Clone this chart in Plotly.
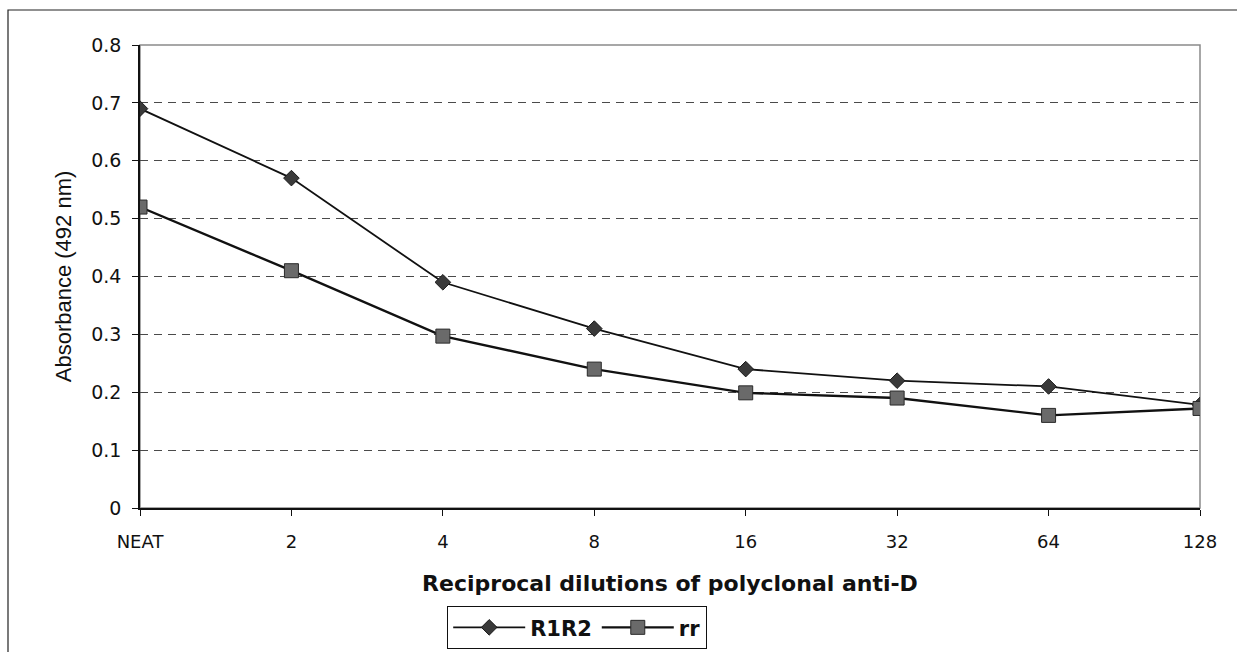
import plotly.graph_objects as go

# Reciprocal dilutions of polyclonal anti-D and absorbance readings at 492 nm
dilutions = ["NEAT", "2", "4", "8", "16", "32", "64", "128"]
r1r2 = [0.69, 0.57, 0.39, 0.31, 0.24, 0.22, 0.21, 0.178]
rr = [0.52, 0.41, 0.297, 0.24, 0.199, 0.19, 0.16, 0.172]
y_ticks = [0, 0.1, 0.2, 0.3, 0.4, 0.5, 0.6, 0.7, 0.8]
y_tick_text = ["0", "0.1", "0.2", "0.3", "0.4", "0.5", "0.6", "0.7", "0.8"]

W, H = 1237, 652
L, R, T, B = 140, 37, 45, 144
pw, ph = W - L - R, H - T - B

def px_x(px):
    return (px - L) / pw

def px_y(py):
    return (H - B - py) / ph

INK = "#111111"
SANS = "DejaVu Sans, Verdana, sans-serif"
ARIAL = "Liberation Sans, Arial, sans-serif"

fig = go.Figure()
fig.add_trace(go.Scatter(
    x=dilutions, y=r1r2, name="R1R2", mode="lines+markers",
    line=dict(color=INK, width=1.8),
    marker=dict(symbol="diamond", size=12, color="#3a3a3a",
                line=dict(color="#1a1a1a", width=1)),
))
fig.add_trace(go.Scatter(
    x=dilutions, y=rr, name="rr", mode="lines+markers",
    line=dict(color=INK, width=2.4),
    marker=dict(symbol="square", size=14, color="#6a6a6a",
                line=dict(color="#2a2a2a", width=1)),
))

fig.update_layout(
    width=W, height=H,
    margin=dict(l=L, r=R, t=T, b=B, autoexpand=False),
    paper_bgcolor="white", plot_bgcolor="white",
    font=dict(family=SANS, size=16, color=INK),
    showlegend=True,
    legend=dict(
        orientation="h",
        x=px_x(577), xanchor="center",
        y=px_y(606), yanchor="top",
        bordercolor=INK, borderwidth=1.2,
        font=dict(family=SANS, size=21, color=INK, weight="bold"),
        itemwidth=72, tracegroupgap=0,
    ),
    xaxis=dict(
        type="category", range=[0, 7], automargin=False,
        showgrid=False, zeroline=False,
        showline=True, linecolor=INK, linewidth=1.5,
        ticks="outside", ticklen=6, tickcolor=INK, tickwidth=1.2,
        ticklabelstandoff=11,
        tickfont=dict(family=SANS, size=18, color=INK),
        title=dict(text="Reciprocal dilutions of polyclonal anti-D",
                   font=dict(family=SANS, size=22, color=INK, weight="bold"),
                   standoff=24),
    ),
    yaxis=dict(
        range=[0, 0.8], tickvals=y_ticks, ticktext=y_tick_text, automargin=False,
        showgrid=True, gridcolor="#4a4a4a", gridwidth=1, griddash="8px,6px",
        zeroline=False,
        showline=True, linecolor=INK, linewidth=1.5,
        ticks="outside", ticklen=6, tickcolor=INK, tickwidth=1.2,
        ticklabelstandoff=7,
        tickfont=dict(family=SANS, size=19, color=INK),
        title=dict(text="Absorbance (492 nm)",
                   font=dict(family=ARIAL, size=22, color=INK),
                   standoff=14),
    ),
    shapes=[
        # plot area frame (top and right edges in grey)
        dict(type="rect", xref="paper", yref="paper", x0=0, x1=1, y0=0, y1=1,
             line=dict(color="#8a8a8a", width=1.5), layer="below"),
        # outer chart frame, running past the right and bottom edges
        dict(type="rect", xref="paper", yref="paper",
             x0=px_x(8), x1=px_x(1245), y0=px_y(660), y1=px_y(10),
             line=dict(color="#222222", width=1.2), layer="below"),
    ],
)

fig.write_html("out.html")
